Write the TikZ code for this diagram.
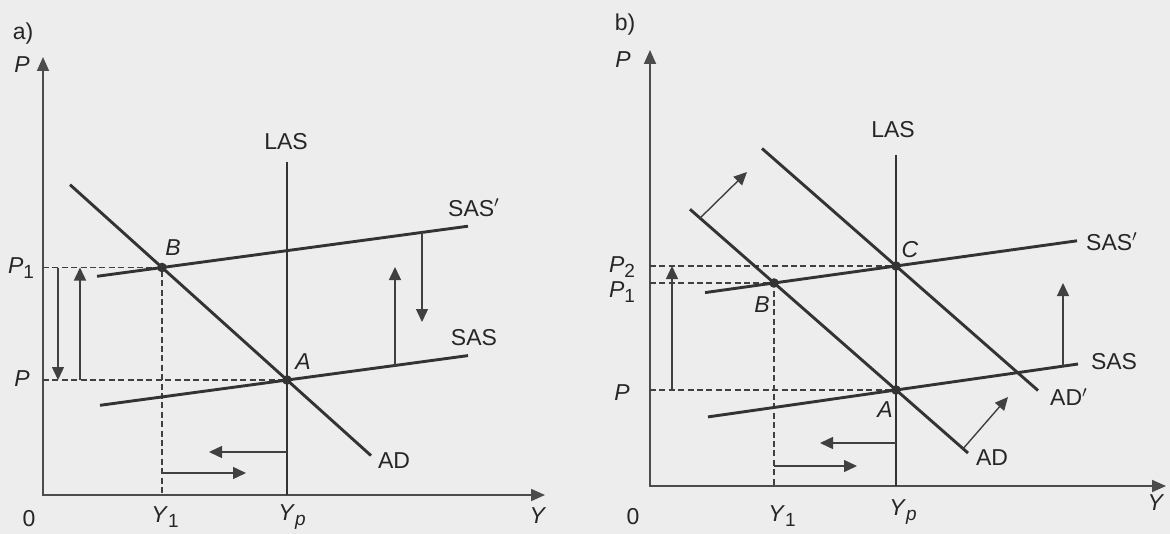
\documentclass[tikz,border=0pt]{standalone}
\usepackage{fontspec}
\setmainfont{Liberation Sans}
\usetikzlibrary{arrows.meta,calc}
\newcommand{\lsub}[1]{\raisebox{-0.4ex}{\fontsize{9.5}{10}\selectfont #1}}

\begin{document}
\begin{tikzpicture}[x=0.5pt,y=-0.5pt,
  curve/.style={line width=1.45pt,draw=black!80},
  axis/.style={line width=0.9pt,draw=black!70,{Triangle[length=7pt,width=6pt]}-{Triangle[length=7pt,width=6pt]}},
  move/.style={line width=0.7pt,draw=black!75,-{Triangle[length=6.5pt,width=6pt]}},
  guide/.style={line width=0.7pt,draw=black!75,dash pattern=on 3pt off 1.7pt},
  dot/.style={circle,fill=black!80,inner sep=0pt,minimum size=4.8pt},
  lbl/.style={font=\fontsize{11.5}{13}\selectfont,text=black!85,inner sep=1pt}]
\useasboundingbox[fill=black!7] (0,0) rectangle (1170,534);

% panel a
\coordinate (aPtop) at (43,57);
\coordinate (aO) at (43,495);
\coordinate (aYend) at (545,495);
\coordinate (aB) at (162,267.5);
\coordinate (aA) at (287,380);
\coordinate (aLAStop) at (287,162);
\coordinate (aLASbot) at (287,495);
\coordinate (aSASpl) at (97,276.3);
\coordinate (aSASpr) at (468,226.2);
\coordinate (aSASl) at (100,405.3);
\coordinate (aSASr) at (468,355.6);
\coordinate (aADtop) at ($(aB)!-0.736!(aA)$);
\coordinate (aADend) at ($(aB)!1.672!(aA)$);
\coordinate (aP1) at (43,267.5);
\coordinate (aP) at (43,380);
\coordinate (aY1) at (162,495);

\draw[axis] (aPtop) -- (aO) -- (aYend);
\draw[guide] (aP1) -- (aB) -- (aY1);
\draw[guide] (aP) -- (aA);
\draw[curve] (aLAStop) -- (aLASbot);
\draw[curve] (aSASpl) -- (aSASpr);
\draw[curve] (aSASl) -- (aSASr);
\draw[curve] (aADtop) -- (aADend);
\node[dot] at (aB) {};
\node[dot] at (aA) {};

\coordinate (aDnS) at (58,267.5);
\coordinate (aDnE) at (58,380);
\coordinate (aUpS) at (80,380);
\coordinate (aUpE) at (80,267.5);
\draw[move] (aDnS) -- (aDnE);
\draw[move] (aUpS) -- (aUpE);
\coordinate (aSupS) at (395,365.5);
\coordinate (aSupE) at (395,267);
\coordinate (aSdnS) at (422,232.4);
\coordinate (aSdnE) at (422,322);
\draw[move] (aSupS) -- (aSupE);
\draw[move] (aSdnS) -- (aSdnE);
\coordinate (aLeftS) at (287,452);
\coordinate (aLeftE) at (209,452);
\coordinate (aRightS) at (162,473);
\coordinate (aRightE) at (246,473);
\draw[move] (aLeftS) -- (aLeftE);
\draw[move] (aRightS) -- (aRightE);

\node[lbl] (aTitle) at (23,34) {a)};
\node[lbl] (aPlab) at (22,65) {\textit{P}};
\node[lbl] (aP1lab) at (21,268) {\textit{P}\lsub{1}};
\node[lbl] (aPlev) at (22,379) {\textit{P}};
\node[lbl] (aZero) at (29,519) {0};
\node[lbl] (aY1lab) at (165,517) {\textit{Y}\lsub{1}};
\node[lbl] (aYplab) at (292,517) {\textit{Y}\lsub{\textit{p}}};
\node[lbl] (aYlab) at (538,516) {\textit{Y}};
\node[lbl] (aLASlab) at (286,142) {LAS};
\node[lbl] (aSASplab) at (474,208) {SAS$'$};
\node[lbl] (aSASlab) at (474,338) {SAS};
\node[lbl] (aADlab) at (394,461) {AD};
\node[lbl] (aBlab) at (173,248) {\textit{B}};
\node[lbl] (aAlab) at (303,362) {\textit{A}};

% panel b
\coordinate (bPtop) at (650,50);
\coordinate (bO) at (650,486);
\coordinate (bYend) at (1166,486);
\coordinate (bB) at (774,283);
\coordinate (bC) at (896,266);
\coordinate (bA) at (896,390);
\coordinate (bLAStop) at (896,155);
\coordinate (bLASbot) at (896,486);
\coordinate (bSASpl) at (705,292.6);
\coordinate (bSASpr) at (1077,240.8);
\coordinate (bSASl) at (708,416.9);
\coordinate (bSASr) at (1078,364);
\coordinate (bADtop) at (690,209.3);
\coordinate (bADend) at (968,453);
\coordinate (bADptop) at (762,148.5);
\coordinate (bADpend) at (1038,390.5);
\coordinate (bP2) at (650,266);
\coordinate (bP1) at (650,283);
\coordinate (bP) at (650,390);
\coordinate (bY1) at (774,486);

\draw[axis] (bPtop) -- (bO) -- (bYend);
\draw[guide] (bP2) -- (bC);
\draw[guide] (bP1) -- (bB) -- (bY1);
\draw[guide] (bP) -- (bA);
\draw[curve] (bLAStop) -- (bLASbot);
\draw[curve] (bSASpl) -- (bSASpr);
\draw[curve] (bSASl) -- (bSASr);
\draw[curve] (bADtop) -- (bADend);
\draw[curve] (bADptop) -- (bADpend);
\node[dot] at (bB) {};
\node[dot] at (bC) {};
\node[dot] at (bA) {};

\coordinate (bUpS) at (672,390);
\coordinate (bUpE) at (672,266);
\draw[move] (bUpS) -- (bUpE);
\coordinate (bDs1S) at (700,218.1);
\coordinate (bDs1E) at (747,172);
\coordinate (bDs2S) at (963,448.8);
\coordinate (bDs2E) at (1008,397);
\draw[move] (bDs1S) -- (bDs1E);
\draw[move] (bDs2S) -- (bDs2E);
\coordinate (bSupS) at (1063,366);
\coordinate (bSupE) at (1063,283);
\draw[move] (bSupS) -- (bSupE);
\coordinate (bLeftS) at (896,443);
\coordinate (bLeftE) at (820,443);
\coordinate (bRightS) at (774,466);
\coordinate (bRightE) at (857,466);
\draw[move] (bLeftS) -- (bLeftE);
\draw[move] (bRightS) -- (bRightE);

\node[lbl] (bTitle) at (625,25) {b)};
\node[lbl] (bPlab) at (623,60) {\textit{P}};
\node[lbl] (bP2lab) at (622,267) {\textit{P}\lsub{2}};
\node[lbl] (bP1lab) at (622,292) {\textit{P}\lsub{1}};
\node[lbl] (bPlev) at (622,393) {\textit{P}};
\node[lbl] (bZero) at (633,517) {0};
\node[lbl] (bY1lab) at (782,516) {\textit{Y}\lsub{1}};
\node[lbl] (bYplab) at (903,512) {\textit{Y}\lsub{\textit{p}}};
\node[lbl] (bYlab) at (1156,503) {\textit{Y}};
\node[lbl] (bLASlab) at (893,130) {LAS};
\node[lbl] (bSASplab) at (1112,242) {SAS$'$};
\node[lbl] (bSASlab) at (1114,362) {SAS};
\node[lbl] (bADplab) at (1069,397) {AD$'$};
\node[lbl] (bADlab) at (992,458) {AD};
\node[lbl] (bClab) at (910,250) {\textit{C}};
\node[lbl] (bBlab) at (762,305) {\textit{B}};
\node[lbl] (bAlab) at (885,410) {\textit{A}};
\end{tikzpicture}
\end{document}
